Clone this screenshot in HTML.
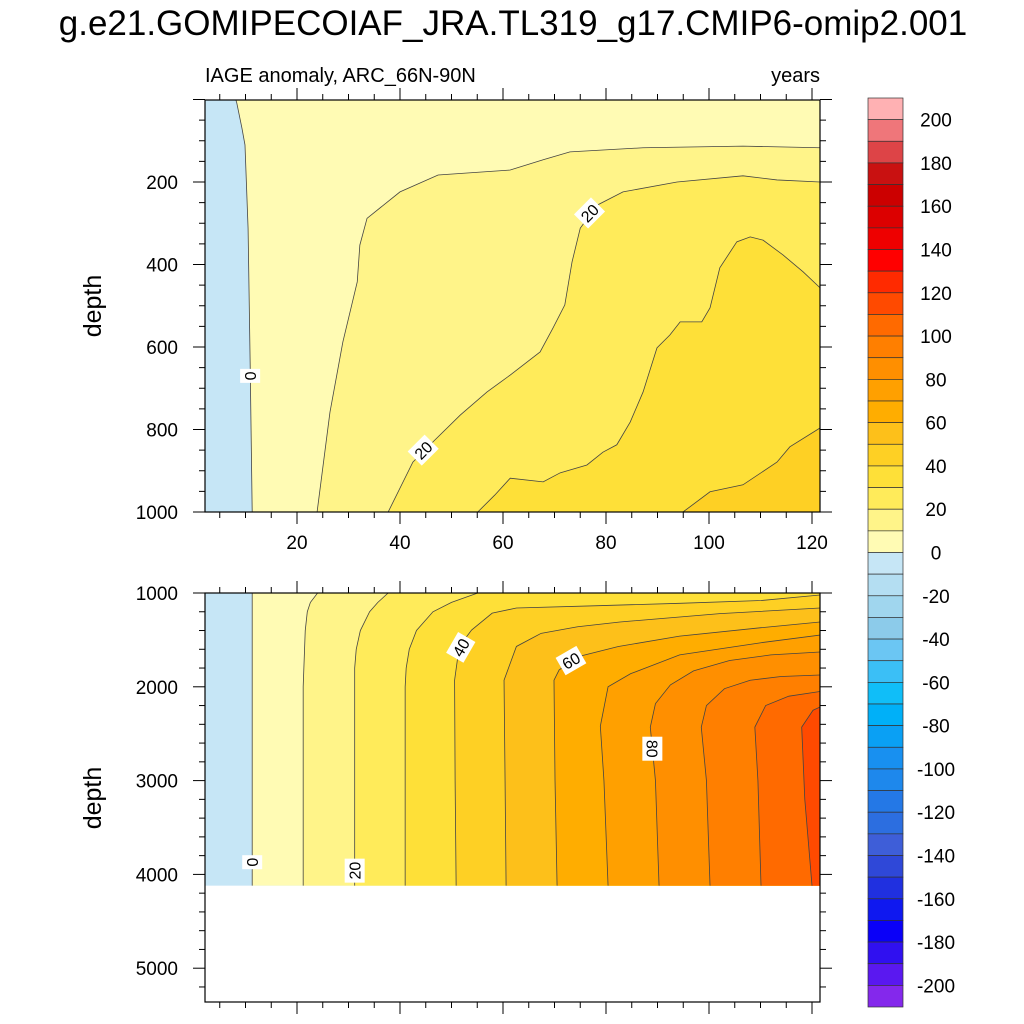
<!DOCTYPE html>
<html><head><meta charset="utf-8">
<style>
html,body{margin:0;padding:0;background:#fff;}
svg{display:block;font-family:"Liberation Sans",sans-serif;}
</style></head>
<body>
<svg id="chart" width="1024" height="1024" viewBox="0 0 1024 1024">
  <defs>
    <clipPath id="clipTop"><rect x="205" y="100" width="615" height="412"/></clipPath>
    <clipPath id="clipBot"><rect x="205" y="593" width="615" height="409"/></clipPath>
  </defs>
  <text x="513" y="35" text-anchor="middle" font-size="35" fill="#000">g.e21.GOMIPECOIAF_JRA.TL319_g17.CMIP6-omip2.001</text>
  <text x="205" y="82" font-size="20" fill="#000">IAGE anomaly, ARC_66N-90N</text>
  <text x="820" y="82" text-anchor="end" font-size="20" fill="#000">years</text>
  <text transform="translate(101,306) rotate(-90)" text-anchor="middle" font-size="25" fill="#000">depth</text>
  <text transform="translate(101,798) rotate(-90)" text-anchor="middle" font-size="25" fill="#000">depth</text>
  <g id="topPanel"></g>
  <g id="botPanel"></g>
  <g id="colorbar"></g>
</svg>
<script>
// ---- data ----
const bandColors = ["#8428ec","#5a18f0","#3010f0","#0a00f8","#0f18f0","#2030e0","#2f48d8","#3e5ed8","#2c6ee0","#2478e6","#1e88ec","#1890f0","#0aa0f4","#00b0f8","#10bef8","#3bbff6","#6bc6f3","#8ccbea","#a0d6ee","#b4def2","#c6e6f6",
 "#fffbb4","#fff489","#ffeb5a","#fee038","#fed024","#fdc01a","#ffad00","#ffa000","#ff8f00","#ff7f00","#ff6a00","#ff4a00","#ff2a00","#ff0000","#ee0000","#dc0000","#cc0000","#c91111","#dd4447","#ef767a","#ffb1b3"];
const colorbarLabels = [200,180,160,140,120,100,80,60,40,20,0,-20,-40,-60,-80,-100,-120,-140,-160,-180,-200];
const xTickLabels = [20,40,60,80,100,120];
const topDepthTicks = [200,400,600,800,1000];
const botDepthTicks = [1000,2000,3000,4000,5000];
const topLevels = [0,10,20,30,40];
const botLevels = [0,10,20,30,40,50,60,70,80,90,100,110];
// contour lines: [year, depth] pairs (bottom -> top/right)
const topC0  = [[11.3,1000],[10.9,636],[10.5,312],[9.9,110],[9.3,69],[8.3,8],[8.1,0]];
const topC10 = [[23.9,1000],[26.4,758],[28.9,588],[31.7,442],[32.2,353],[33.6,288],[40.0,224],[47.4,183],[61.4,171],[67.8,146],[73.0,127],[87.2,117],[106.6,113],[121.6,117]];
const topC20 = [[37.7,1000],[42.5,879],[46.4,830],[51.7,765],[56.9,709],[61.4,668],[67.2,612],[69.7,554],[72.0,498],[73.4,394],[75.0,312],[78.3,256],[83.3,224],[93.8,200],[106.6,185],[113.2,195],[121.6,200]];
const topC30 = [[55.1,1000],[58.4,959],[61.4,918],[67.8,927],[71.1,905],[76.3,886],[79.4,855],[82.1,837],[84.7,782],[87.2,709],[89.9,602],[92.4,571],[94.4,539],[98.6,539],[100.2,505],[102.1,408],[105.4,345],[108.0,333],[110.5,341],[114.4,377],[118.3,418],[121.6,457]];
const topC40 = [[94.95,1000],[100.2,951],[106.6,934],[113.2,879],[115.7,842],[121.6,796]];
const botC0   = [[11.3,4120],[11.3,1000]];
const botC10  = [[21.2,4120],[21.2,2000],[21.6,1400],[22.0,1200],[22.6,1100],[24.0,1000]];
const botC20  = [[31.2,4120],[31.2,1800],[31.5,1600],[32.3,1400],[34.1,1200],[35.7,1100],[37.7,1000]];
const botC30  = [[41.0,4120],[41.0,2000],[41.2,1800],[41.8,1600],[43.2,1400],[46.4,1200],[50.0,1100],[55.1,1000]];
const botC40  = [[50.9,4120],[50.7,3000],[50.6,1930],[51.5,1570],[53.9,1395],[57.9,1215],[62.6,1160],[78.5,1135],[94.3,1110],[110.1,1080],[121.6,1021]];
const botC50  = [[60.6,4120],[60.4,3000],[60.2,1930],[62.6,1570],[67.4,1430],[74.5,1360],[82.7,1309],[102.1,1220],[121.6,1160]];
const botC60  = [[70.5,4120],[70.1,3000],[69.9,1930],[70.9,1820],[74.5,1680],[82.4,1570],[94.3,1460],[110.1,1370],[121.6,1309]];
const botC70  = [[80.4,4120],[79.6,3000],[78.9,2420],[80.4,2000],[84.8,1860],[94.3,1660],[110.1,1530],[121.6,1448]];
const botC80  = [[90.3,4120],[89.6,3000],[88.6,2430],[89.6,2180],[92.5,1980],[97,1830],[104,1720],[112,1660],[121.6,1629]];
const botC90  = [[100.2,4120],[99.5,3000],[98.5,2430],[99.5,2200],[103,2020],[108,1930],[114,1890],[121.6,1874]];
const botC100 = [[110.1,4120],[109.5,3000],[108.9,2430],[111,2200],[115.5,2100],[121.6,2050]];
const botC110 = [[120,4120],[118.6,3200],[118,2430],[120.2,2250],[121.6,2215]];
const topContours = [topC0,topC10,topC20,topC30,topC40];
const botContours = [botC0,botC10,botC20,botC30,botC40,botC50,botC60,botC70,botC80,botC90,botC100,botC110];
const topLabels = [[0,10.9,670,-90],[20,44.5,850,-45],[20,76.8,275,-45]];
const botLabels = [[0,11.3,3870,-90],[20,31.2,3960,-90],[40,51.8,1580,-60],[60,73.2,1720,-30],[80,89.0,2660,90]];

// ---- scales ----
const XMAX = 121.6;
const xs = yr => 194 + yr*5.15;
const ysTop = d => 99.5 + d*0.4125;
const ysBot = d => 593 + (d-1000)*0.0938;
const bandColor = L => bandColors[(L+200)/10 + 1];
const NS = "http://www.w3.org/2000/svg";
function mk(tag, attrs, parent){const e=document.createElementNS(NS,tag);for(const k in attrs)e.setAttribute(k,attrs[k]);parent.appendChild(e);return e;}

function drawPanel(g, clipId, ys, levels, contours, dTop, dBottom, labels){
  const area = mk('g',{'clip-path':'url(#'+clipId+')'},g);
  const bg = mk('rect',{x:xs(0),y:ys(dTop),width:xs(XMAX)-xs(0),height:ys(dBottom)-ys(dTop),fill:bandColor(-10)},area);
  
  
  levels.forEach((L,i)=>{
    const pts = contours[i].slice();
    const last = pts[pts.length-1], first = pts[0];
    const poly = pts.concat([[XMAX+2,last[1]],[XMAX+2,first[1]]]);
    const p = mk('polygon',{points:poly.map(q=>xs(q[0])+','+ys(q[1])).join(' '),fill:bandColor(L)},area);
    
    
  });
  levels.forEach((L,i)=>{
    const l = mk('polyline',{points:contours[i].map(q=>xs(q[0])+','+ys(q[1])).join(' '),fill:'none',stroke:'#444',"stroke-width":0.8},area);
    
    
  });
  labels.forEach(lb=>{
    const cx=xs(lb[1]), cy=ys(lb[2]);
    const t = mk('g',{transform:'translate('+cx+','+cy+') rotate('+lb[3]+')'},g);
    
    
    const w = String(lb[0]).length*10+4;
    mk('rect',{x:-w/2,y:-10,width:w,height:20,fill:'#fff'},t);
    mk('text',{x:0,y:6,'text-anchor':'middle','font-size':16,fill:'#000'},t).textContent=lb[0];
  });
}

function drawAxes(g, y0, y1, ys, dTicks, dMinorStep, dMin, dMax, showXLabels){
  const fr = mk('rect',{x:205,y:y0,width:615,height:y1-y0,fill:'none',stroke:'#000','stroke-width':1.2},g);
  
  
  const tk = mk('g',{stroke:'#000','stroke-width':1},g);
  for(let yr=5; yr<=120; yr+=5){
    const x=xs(yr), maj = yr%20===0, len = maj?12:6;
    mk('line',{x1:x,y1:y1,x2:x,y2:y1+len},tk);
    mk('line',{x1:x,y1:y0,x2:x,y2:y0-len},tk);
  }
  for(let d=Math.ceil(dMin/dMinorStep)*dMinorStep; d<=dMax; d+=dMinorStep){
    const y=ys(d); if(y<y0-0.5||y>y1+0.5) continue;
    const maj = d%(dTicks[1]-dTicks[0])===0, len = maj?12:6;
    mk('line',{x1:205,y1:y,x2:205-len,y2:y},tk);
    mk('line',{x1:820,y1:y,x2:820+len,y2:y},tk);
  }
  dTicks.forEach(d=>{
    const t=mk('text',{x:178,y:ys(d)+7,'text-anchor':'end','font-size':19,fill:'#000'},g);
    t.textContent=d;
    
    
  });
  if(showXLabels) xTickLabels.forEach(v=>{
    const t=mk('text',{x:xs(v),y:y1+37,'text-anchor':'middle','font-size':19,fill:'#000'},g);
    t.textContent=v;
    
    
  });
}

const gTop=document.getElementById('topPanel'), gBot=document.getElementById('botPanel');
drawPanel(gTop,'clipTop',ysTop,topLevels,topContours,0,1000,topLabels);
drawAxes(gTop,100,512,ysTop,topDepthTicks,50,0,1000,true);
drawPanel(gBot,'clipBot',ysBot,botLevels,botContours,1000,4120,botLabels);
drawAxes(gBot,593,1002,ysBot,botDepthTicks,200,1000,5400,false);

// colorbar
const cb=document.getElementById('colorbar');
const cbTop=98, cbH=909/42;
for(let i=0;i<42;i++){
  const r=mk('rect',{x:868,y:cbTop+i*cbH,width:35,height:cbH,fill:bandColors[41-i],stroke:'#333','stroke-width':0.7},cb);
  
  
}
colorbarLabels.forEach((v,i)=>{
  const y=cbTop+cbH*(1+2*i);
  const t=mk('text',{x:936,y:y+7,'text-anchor':'middle','font-size':19,fill:'#000'},cb);
  t.textContent=v;
  
  
});
</script>
</body></html>
